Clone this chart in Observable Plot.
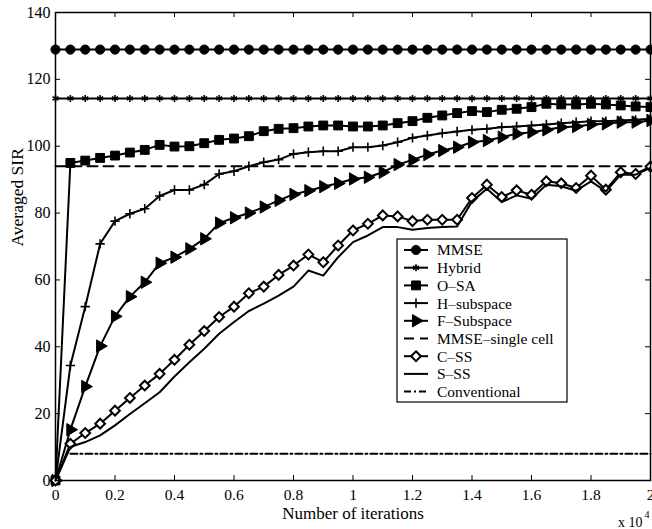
<!DOCTYPE html>
<html><head><meta charset="utf-8">
<script src="https://cdn.jsdelivr.net/npm/d3@7"></script>
<script src="https://cdn.jsdelivr.net/npm/@observablehq/plot@0.6"></script>
<style>body{margin:0;background:#fff}</style>
</head><body><div id="chart"></div>
<script>
// ---- data ----
const iterations = [0,0.05,0.1,0.15,0.2,0.25,0.3,0.35,0.4,0.45,0.5,0.55,0.6,0.65,0.7,0.75,0.8,0.85,0.9,0.95,
  1,1.05,1.1,1.15,1.2,1.25,1.3,1.35,1.4,1.45,1.5,1.55,1.6,1.65,1.7,1.75,1.8,1.85,1.9,1.95,2];
const seriesNames = ["MMSE","Hybrid","O\u2013SA","H\u2013subspace","F\u2013Subspace","MMSE\u2013single cell","C\u2013SS","S\u2013SS","Conventional"];
const mmse = [128.9,128.9,128.9,128.9,128.9,128.9,128.9,128.9,128.9,128.9,128.9,128.9,128.9,128.9,128.9,128.9,128.9,128.9,128.9,128.9,
  128.9,128.9,128.9,128.9,128.9,128.9,128.9,128.9,128.9,128.9,128.9,128.9,128.9,128.9,128.9,128.9,128.9,128.9,128.9,128.9,128.9];
const hybrid = [114.3,114.3,114.3,114.3,114.3,114.3,114.3,114.3,114.3,114.3,114.3,114.3,114.3,114.3,114.3,114.3,114.3,114.3,114.3,114.3,
  114.3,114.3,114.3,114.3,114.3,114.3,114.3,114.3,114.3,114.3,114.3,114.3,114.3,114.3,114.3,114.3,114.3,114.3,114.3,114.3,114.3];
const osa = [0,95.0,95.7,96.5,97.2,98.1,98.9,100.4,99.9,100.0,100.9,101.9,102.3,103.0,104.5,105.2,105.4,105.9,106.2,106.2,
  105.9,105.9,106.2,106.9,107.5,108.5,109.2,109.9,110.5,110.2,110.9,111.2,111.7,112.7,112.5,112.5,112.7,112.5,112.2,111.9,111.7];
const hSubspace = [0,34.4,52.0,70.8,77.6,79.8,81.3,85.1,86.9,86.9,88.5,91.7,92.5,94.0,95.2,96.0,97.7,98.2,98.5,98.5,
  99.7,99.7,100.2,101.2,102.5,103.2,103.9,104.4,104.9,105.2,105.7,105.9,106.2,106.5,106.9,107.2,107.5,107.5,107.7,107.9,108.2];
const fSubspace = [0,15.2,28.1,40.2,49.1,55.0,59.3,65.0,66.8,69.3,72.3,77.0,78.6,80.0,81.8,83.8,85.6,86.7,87.9,88.9,
  90.2,90.7,92.2,94.5,95.9,97.5,98.7,99.7,101.2,101.7,102.7,103.7,104.2,104.9,105.7,105.9,106.5,106.7,107.2,107.2,107.7];
const mmseSingle = [94.0,94.0,94.0,94.0,94.0,94.0,94.0,94.0,94.0,94.0,94.0,94.0,94.0,94.0,94.0,94.0,94.0,94.0,94.0,94.0,
  94.0,94.0,94.0,94.0,94.0,94.0,94.0,94.0,94.0,94.0,94.0,94.0,94.0,94.0,94.0,94.0,94.0,94.0,94.0,94.0,94.0];
const cSS = [0,11.0,14.2,17.0,20.9,24.7,28.4,31.9,36.1,40.6,44.7,48.9,52.0,56.0,58.0,61.5,64.3,67.6,65.3,70.3,
  74.8,76.8,79.3,79.0,77.6,78.0,78.0,78.0,84.5,88.5,84.8,86.8,85.5,89.5,88.9,87.5,91.2,87.0,92.2,91.7,93.9];
const sSS = [0,10.0,11.5,13.5,16.5,19.9,23.1,26.4,31.1,35.4,39.4,43.9,47.4,50.7,52.9,55.3,58.0,62.8,61.3,66.8,
  71.3,73.3,75.8,75.8,75.0,75.5,75.8,76.0,83.5,87.3,83.3,85.3,84.3,88.5,88.0,86.7,89.5,86.5,91.5,91.5,93.5];
const conventional = [null,8.0,8.0,8.0,8.0,8.0,8.0,8.0,8.0,8.0,8.0,8.0,8.0,8.0,8.0,8.0,8.0,8.0,8.0,8.0,
  8.0,8.0,8.0,8.0,8.0,8.0,8.0,8.0,8.0,8.0,8.0,8.0,8.0,8.0,8.0,8.0,8.0,8.0,8.0,8.0,8.0];
const xTicks = [0,0.2,0.4,0.6,0.8,1,1.2,1.4,1.6,1.8,2];
const yTicks = [0,20,40,60,80,100,120,140];
const xLabel = "Number of iterations";
const yLabel = "Averaged SIR";

// ---- styles ----
const seriesValues = [mmse, hybrid, osa, hSubspace, fSubspace, mmseSingle, cSS, sSS, conventional];
const styles = [
  {symbol: "circle", r: 4.6, fill: "black", stroke: "black", sw: 1},
  {symbol: "asterisk", r: 3.3, fill: "none", stroke: "black", sw: 1.6},
  {symbol: "square", r: 5, fill: "black", stroke: "black", sw: 1},
  {symbol: "plus", r: 3.1, fill: "none", stroke: "black", sw: 1.6},
  {symbol: "triangle", r: 4.6, fill: "black", stroke: "black", sw: 1, rotate: 90},
  {dash: "10,6"},
  {symbol: "diamond2", r: 4.4, fill: "white", stroke: "black", sw: 2},
  {},
  {dash: "7,3,2,3"}
];

const rows = [];
seriesNames.forEach((name, s) => {
  iterations.forEach((x, i) => {
    const v = seriesValues[s][i];
    if (v != null) rows.push({series: name, x, y: v});
  });
});

const W = 652, H = 529, mL = 55, mR = 2, mT = 12, mB = 49;
const plotW = W - mL - mR, plotH = H - mT - mB;
const font = "'Liberation Serif','Times New Roman',serif";

const marks = [];
seriesNames.forEach((name, s) => {
  const st = styles[s];
  const data = rows.filter(d => d.series === name);
  marks.push(Plot.line(data, {x: "x", y: "y", stroke: "black", strokeWidth: 2, strokeDasharray: st.dash, strokeLinejoin: "round"}));
  if (st.symbol) {
    marks.push(Plot.dot(data, {x: "x", y: "y", symbol: st.symbol, r: st.r, fill: st.fill, stroke: st.stroke, strokeWidth: st.sw, rotate: st.rotate || 0}));
  }
});

const chart = Plot.plot({
  width: W, height: H,
  marginLeft: mL, marginRight: mR, marginTop: mT, marginBottom: mB,
  style: {fontFamily: font, fontSize: "15px", color: "black", background: "white", overflow: "visible"},
  x: {domain: [0, 2]},
  y: {domain: [0, 140]},
  marks: [
    ...marks,
    Plot.tickX(xTicks, {x: d => d, insetTop: plotH - 5, stroke: "black", strokeWidth: 1}),
    Plot.tickX(xTicks, {x: d => d, insetBottom: plotH - 5, stroke: "black", strokeWidth: 1}),
    Plot.tickY(yTicks, {y: d => d, insetRight: plotW - 5, stroke: "black", strokeWidth: 1}),
    Plot.tickY(yTicks, {y: d => d, insetLeft: plotW - 5, stroke: "black", strokeWidth: 1}),
    Plot.frame({stroke: "black", strokeWidth: 1.5}),
    Plot.axisX(xTicks, {tickSize: 0, tickPadding: 8, tickFormat: d => String(d), label: null, fontSize: 15.5}),
    Plot.axisY(yTicks, {tickSize: 0, tickPadding: 5, tickFormat: d => String(d), label: null, fontSize: 16}),
    Plot.text([xLabel], {frameAnchor: "bottom", lineAnchor: "middle", text: d => d, dy: 33, fontSize: 17, fill: "black"}),
    Plot.text([yLabel], {frameAnchor: "left", lineAnchor: "middle", text: d => d, dx: -38, rotate: -90, fontSize: 17.5, fill: "black"}),
    Plot.text(["x 10"], {frameAnchor: "bottom-right", lineAnchor: "middle", text: d => d, textAnchor: "end", dx: -8, dy: 42, fontSize: 14, fill: "black"}),
    Plot.text(["4"], {frameAnchor: "bottom-right", lineAnchor: "middle", text: d => d, textAnchor: "end", dx: -1, dy: 34, fontSize: 10, fill: "black"})
  ]
});
document.getElementById("chart").appendChild(chart);

// ---- legend box (inside the plot frame) ----
const svg = d3.select(chart.tagName.toLowerCase() === "svg" ? chart : chart.querySelector("svg"));
const lg = svg.append("g").attr("font-family", font).attr("font-size", 15.5).attr("text-anchor", "start");
const box = {x: 397, y: 239, w: 170, h: 163};
lg.append("rect").attr("x", box.x).attr("y", box.y).attr("width", box.w).attr("height", box.h)
  .attr("fill", "white").attr("stroke", "black").attr("stroke-width", 1.2);
const symMap = {circle: d3.symbolCircle, asterisk: d3.symbolAsterisk, square: d3.symbolSquare, plus: d3.symbolPlus, triangle: d3.symbolTriangle, diamond2: d3.symbolDiamond2};
seriesNames.forEach((name, s) => {
  const st = styles[s];
  const cy = box.y + 11 + s * 17.7;
  lg.append("line").attr("x1", box.x + 7).attr("x2", box.x + 31).attr("y1", cy).attr("y2", cy)
    .attr("stroke", "black").attr("stroke-width", 2).attr("stroke-dasharray", st.dash || null);
  if (st.symbol) {
    lg.append("path").attr("d", d3.symbol(symMap[st.symbol], Math.PI * st.r * st.r)())
      .attr("transform", `translate(${box.x + 19},${cy}) rotate(${st.rotate || 0})`)
      .attr("fill", st.fill).attr("stroke", st.stroke).attr("stroke-width", st.sw);
  }
  lg.append("text").attr("x", box.x + 40).attr("y", cy).attr("dy", "0.35em").attr("text-anchor", "start").attr("fill", "black").text(name);
});
</script>
</body></html>
